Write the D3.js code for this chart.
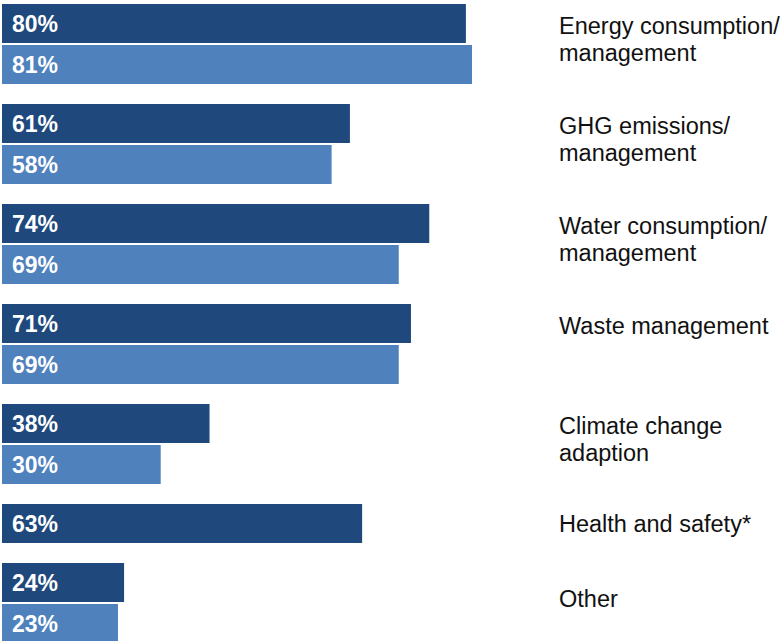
<!DOCTYPE html>
<html><head><meta charset="utf-8">
<script src="https://cdn.jsdelivr.net/npm/d3@7"></script>
<style>body{margin:0;background:#fff;overflow:hidden}</style>
</head><body><svg id="c" width="781" height="641"></svg>
<script>
const categories = [
  ["Energy consumption/", "management"],
  ["GHG emissions/", "management"],
  ["Water consumption/", "management"],
  ["Waste management", ""],
  ["Climate change", "adaption"],
  ["Health and safety*"],
  ["Other"]
];
const series1 = [80, 61, 74, 71, 38, 63, 24];
const series2 = [81, 58, 69, 69, 30, null, 23];
const colors = ["#1f497d", "#4f81bd"];

const svg = d3.select("#c");
const x = d3.scaleLinear().domain([4, 81]).range([2, 472]);

const slot = 41, barH = 39, groupGap = 18, top0 = 4;
const rows = [];
const groups = [];
let y = top0;
categories.forEach((lines, i) => {
  const vals = [series1[i], series2[i]];
  let n = 0;
  vals.forEach((v, s) => {
    if (v === null || v === undefined) return;
    rows.push({ v, s, y: y + n * slot });
    n++;
  });
  const h = n * slot - (slot - barH);
  groups.push({ lines, top: y, h, n });
  y += n * slot + groupGap;
});

svg.selectAll("rect.bar").data(rows).join("rect")
  .attr("class", "bar")
  .attr("x", x(4))
  .attr("y", d => d.y)
  .attr("width", d => x(d.v) - x(4))
  .attr("height", barH)
  .attr("fill", d => colors[d.s]);

svg.selectAll("text.val").data(rows).join("text")
  .attr("class", "val")
  .attr("x", 12)
  .attr("y", d => d.y + barH / 2 + 8.5)
  .attr("fill", "#fff")
  .attr("font-family", "Liberation Sans, Arial, sans-serif")
  .attr("font-weight", "bold")
  .attr("font-size", 23)
  .text(d => d.v + "%");

const lineH = 27.5;
groups.forEach(g => {
  const c = g.top + g.h / 2 + (g.n === 2 ? -4.5 : 0.5);
  const n = g.lines.length;
  const t = svg.append("text")
    .attr("font-family", "Liberation Sans, Arial, sans-serif")
    .attr("font-size", 23.5)
    .attr("fill", "#111");
  g.lines.forEach((ln, i) => {
    t.append("tspan")
      .attr("x", 559)
      .attr("y", c + (i - (n - 1) / 2) * lineH + 8)
      .text(ln);
  });
});
</script></body></html>
